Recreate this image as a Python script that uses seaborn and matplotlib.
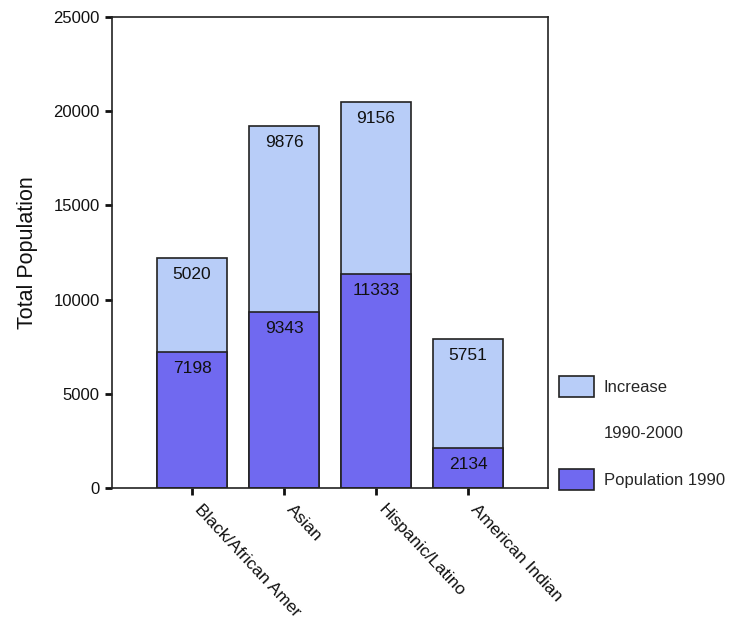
import matplotlib
matplotlib.use("Agg")
import matplotlib.pyplot as plt
import seaborn as sns
import pandas as pd
from matplotlib.patches import Patch

# Population by group: 1990 base and 1990-2000 increase
groups = ["Black/African Amer", "Asian", "Hispanic/Latino", "American Indian"]
pop_1990 = [7198, 9343, 11333, 2134]
increase = [5020, 9876, 9156, 5751]
y_ticks = [0, 5000, 10000, 15000, 20000, 25000]

light = "#B8CDF8"
dark = "#7069F0"
edge = "#222222"

sns.set_theme(style="white")
plt.rcParams["font.family"] = ["Liberation Sans", "DejaVu Sans"]

df = pd.DataFrame({"group": groups, "base": pop_1990, "inc": increase})
df["total"] = df["base"] + df["inc"]

fig = plt.figure(figsize=(7.39, 6.24), dpi=100)
ax = fig.add_axes([0.1516, 0.218, 0.590, 0.755])

# full stacked height first, then the 1990 segment on top of it
sns.barplot(data=df, x="group", y="total", color=light, width=0.77,
            edgecolor=edge, linewidth=1.2, saturation=1, ax=ax)
sns.barplot(data=df, x="group", y="base", color=dark, width=0.77,
            edgecolor=edge, linewidth=1.2, saturation=1, ax=ax)

for i, (b, inc) in enumerate(zip(pop_1990, increase)):
    ax.annotate(f"{b}", (i, b), xytext=(0, -6.5), textcoords="offset points",
                ha="center", va="top", fontsize=12.5, color="#111111")
    ax.annotate(f"{inc}", (i, b + inc), xytext=(0, -6.5), textcoords="offset points",
                ha="center", va="top", fontsize=12.5, color="#111111")

ax.set_xlim(-0.87, 3.87)
ax.set_ylim(0, 25000)
ax.set_yticks(y_ticks)
ax.set_yticklabels([str(t) for t in y_ticks], fontsize=12, color="#111111")
ax.set_xlabel("")
ax.set_ylabel("Total Population", fontsize=15.5, color="#111111", labelpad=11)

ax.set_xticks(range(len(groups)))
ax.set_xticklabels(groups, rotation=-47, ha="left", va="top",
                   rotation_mode="default", fontsize=12.5, color="#111111")
ax.tick_params(axis="y", direction="out", length=5, width=2, color="#111111",
               left=True, pad=4)
ax.tick_params(axis="x", direction="out", length=5, width=2, color="#111111",
               bottom=True, pad=5)

for s in ax.spines.values():
    s.set_visible(True)
    s.set_color("#222222")
    s.set_linewidth(1.2)

handles = [Patch(facecolor=light, edgecolor=edge, linewidth=1.2),
           Patch(facecolor="none", edgecolor="none"),
           Patch(facecolor=dark, edgecolor=edge, linewidth=1.2)]
labels = ["Increase", "1990-2000", "Population 1990"]
fig.legend(handles, labels, loc="upper left", bbox_to_anchor=(0.757, 0.398),
           frameon=False, fontsize=12, handlelength=2.1, handleheight=1.55,
           handletextpad=0.55, labelspacing=1.55, borderpad=0, borderaxespad=0)

fig.savefig("out.png", dpi=100, facecolor="white")
